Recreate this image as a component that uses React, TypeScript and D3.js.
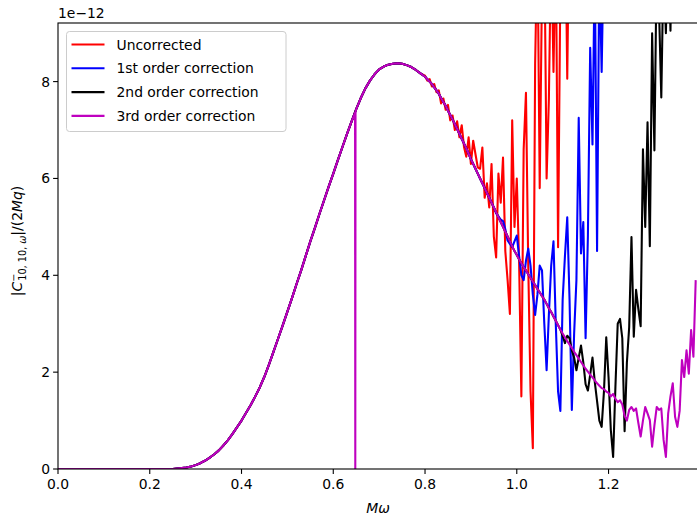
import React from "react";
import * as d3 from "d3";

// shared smooth part, x = 0.00 .. 0.79 step 0.01 (units of 1e-12)
const headStep = 0.01;
const headY = [
  0, 0, 0, 0, 0, 0, 0, 0, 0, 0,
  0, 0, 0, 0, 0, 0, 0, 0, 0, 0,
  0, 0, 0, 0, 0, 0, 0.01, 0.02, 0.03, 0.05,
  0.08, 0.12, 0.17, 0.23, 0.3, 0.38, 0.48, 0.59, 0.72, 0.86,
  1.0, 1.16, 1.32, 1.5, 1.69, 1.91, 2.16, 2.43, 2.7, 2.97,
  3.25, 3.53, 3.82, 4.1, 4.4, 4.7, 4.98, 5.27, 5.55, 5.83,
  6.1, 6.38, 6.65, 6.92, 7.18, 7.43, 7.66, 7.86, 8.02, 8.15,
  8.25, 8.31, 8.35, 8.37, 8.38, 8.37, 8.34, 8.3, 8.24, 8.17,
];

// tails from x = 0.80, step 0.005
const tailStart = 0.8;
const tailStep = 0.005;

const smoothTail = [
  8.1, 8.05, 8.0, 7.95, 7.88, 7.82, 7.75, 7.66, 7.58, 7.5,
  7.4, 7.31, 7.22, 7.12, 7.02, 6.92, 6.82, 6.72, 6.62, 6.51,
  6.4, 6.3, 6.2, 6.1, 6.0, 5.9, 5.8, 5.7, 5.6, 5.5,
  5.4, 5.3, 5.2, 5.1, 5.0, 4.9, 4.8, 4.7, 4.6, 4.5,
  4.42, 4.33, 4.25, 4.17, 4.1, 4.02, 3.95, 3.87, 3.8, 3.72,
  3.65, 3.57, 3.5, 3.41, 3.32, 3.24, 3.15, 3.06, 2.97, 2.88,
  2.8, 2.72, 2.64, 2.57, 2.5, 2.42, 2.35, 2.28, 2.21, 2.14,
  2.07, 2.01, 1.95, 1.89, 1.83, 1.77, 1.72, 1.67,
];

const redTail = [
  8.12, 8.02, 8.05, 7.9, 7.95, 7.78, 7.82, 7.55, 7.65, 7.42,
  7.52, 7.2, 7.3, 7.0, 7.18, 6.85, 7.1, 6.65, 6.45, 6.85,
  6.3, 6.78, 6.5, 6.23, 6.2, 6.64, 5.6, 5.9, 5.4, 6.3,
  4.8, 4.37, 6.1, 5.5, 6.43, 4.5, 3.9, 3.2, 7.2, 5.0,
  6.0, 4.3, 1.5, 6.6, 7.77, 4.2, 1.6, 0.43, 8.37, 11.0,
  5.8, 10.0, 11.0, 6.0, 7.65, 11.0, 8.2, 11.0, 4.58, 10.0,
  11.0, 12.0, 8.06, 12.0,
];

const blueTail = [
  ...smoothTail.slice(0, 31),
  5.28, 5.22, 5.15, 5.12, 4.95, 4.72, 4.65, 4.58, 4.7,
  4.82, 4.4, 4.0, 3.9, 4.3, 4.55, 4.2, 3.6, 3.18, 3.6,
  4.2, 4.1, 3.0, 2.04, 3.2, 4.2, 4.7, 3.0, 1.6, 1.2,
  3.5, 4.4, 5.2, 3.5, 1.22, 2.8, 3.9, 7.25, 4.45, 5.1,
  2.7, 4.8, 8.7, 6.7, 10.5, 4.5, 10.5, 8.2, 11.0,
];

const blackTail = [
  ...smoothTail.slice(0, 60),
  2.75, 2.6, 2.75, 2.7, 2.45, 2.3, 2.04, 2.3, 2.55, 2.2,
  1.75, 1.62, 1.95, 2.3, 1.8, 1.4, 1.0, 0.87, 1.6, 2.72,
  1.9, 0.8, 0.25, 1.7, 3.0, 3.1, 2.7, 0.78, 2.2, 2.93,
  4.79, 2.73, 3.7, 3.3, 2.95, 6.6, 5.0, 7.16, 4.6, 9.0,
  6.58, 10.5, 9.5, 7.67, 10.5, 9.0, 11.0, 9.05, 12.0,
];

const purpleTail = [
  ...smoothTail,
  1.65, 1.6, 1.57, 1.5, 1.55, 1.45, 1.38, 1.42, 1.33, 1.1,
  1.0, 1.22, 1.28, 1.2, 1.25, 0.95, 0.67, 1.0, 1.28, 1.15,
  1.01, 0.46, 0.9, 1.28, 1.22, 1.25, 0.6, 0.25, 1.15, 1.5,
  1.77, 1.08, 0.87, 1.2, 2.25, 1.9, 2.45, 1.97, 2.87, 2.32,
  3.9,
];

// the single drop to zero in the 3rd order curve
const dipX = [0.6475, 0.648, 0.6485];
const dipY = [7.36, 0, 7.38];

const seriesNames = [
  "Uncorrected",
  "1st order correction",
  "2nd order correction",
  "3rd order correction",
];
const seriesColors = ["#ff0000", "#0000ff", "#000000", "#bf00bf"];
const xTicks = [0, 0.2, 0.4, 0.6, 0.8, 1.0, 1.2];
const yTicks = [0, 2, 4, 6, 8];

type Pt = [number, number];

const build = (tail: number[], dip = false): Pt[] => {
  let pts: Pt[] = headY.map((y, i) => [i * headStep, y]);
  if (dip) {
    pts = pts.concat(dipX.map((x, i) => [x, dipY[i]] as Pt));
    pts.sort((a, b) => a[0] - b[0]);
  }
  return pts.concat(tail.map((y, i) => [tailStart + i * tailStep, y] as Pt));
};

const W = 697;
const H = 516;
const margin = { left: 58, top: 23, right: -1, bottom: 47 };
const font = "DejaVu Sans, sans-serif";
const lw = 2.08;

export default function App() {
  const x = d3
    .scaleLinear()
    .domain([0, 1.395])
    .range([margin.left, W - margin.right]);
  const y = d3
    .scaleLinear()
    .domain([0, 9.21])
    .range([H - margin.bottom, margin.top]);

  const line = d3
    .line<Pt>()
    .x((d) => x(d[0]))
    .y((d) => y(d[1]));

  const data = [
    build(redTail),
    build(blueTail),
    build(blackTail),
    build(purpleTail, true),
  ];

  const x0 = x.range()[0];
  const x1 = x.range()[1];
  const y0 = y.range()[0];
  const y1 = y.range()[1];

  return (
    <svg
      width={W}
      height={H}
      style={{ position: "absolute", left: 0, top: 0, background: "#fff" }}
      fontFamily={font}
    >
      <defs>
        <clipPath id="plot">
          <rect x={x0} y={y1} width={x1 - x0} height={y0 - y1} />
        </clipPath>
      </defs>

      <g clipPath="url(#plot)">
        {data.map((d, i) => (
          <path
            key={i}
            d={line(d) || ""}
            fill="none"
            stroke={seriesColors[i]}
            strokeWidth={lw}
            strokeLinejoin="round"
          />
        ))}
      </g>

      {/* spines */}
      <rect
        x={x0}
        y={y1}
        width={x1 - x0}
        height={y0 - y1}
        fill="none"
        stroke="#000"
        strokeWidth={1.1}
      />

      {/* x axis */}
      {xTicks.map((t) => (
        <g key={t} transform={`translate(${x(t)},${y0})`}>
          <line y2={4.9} stroke="#000" strokeWidth={1.1} />
          <text y={20} textAnchor="middle" fontSize={13.9} fill="#000">
            {t.toFixed(1)}
          </text>
        </g>
      ))}
      <text
        x={(x0 + x1) / 2}
        y={513}
        textAnchor="middle"
        fontSize={13.9}
        fontStyle="italic"
      >
        Mω
      </text>

      {/* y axis */}
      {yTicks.map((t) => (
        <g key={t} transform={`translate(${x0},${y(t)})`}>
          <line x2={-4.9} stroke="#000" strokeWidth={1.1} />
          <text x={-8} dy="0.36em" textAnchor="end" fontSize={13.9} fill="#000">
            {t}
          </text>
        </g>
      ))}
      <text x={x0} y={18} fontSize={13.9}>
        1e−12
      </text>
      <text
        transform="translate(22,241) rotate(-90)"
        textAnchor="middle"
        fontSize={13.9}
      >
        |<tspan fontStyle="italic">C</tspan>
        <tspan fontSize={9.7} dy={-5}>−</tspan>
        <tspan fontSize={9.7} dx={-7} dy={9}>10, 10, </tspan>
        <tspan fontSize={9.7} fontStyle="italic">ω</tspan>
        <tspan dy={-4}>|/(2</tspan>
        <tspan fontStyle="italic">Mq</tspan>)
      </text>

      {/* legend */}
      <g transform="translate(66.5,31.5)">
        <rect
          width={219.5}
          height={100}
          rx={3}
          fill="#fff"
          fillOpacity={0.8}
          stroke="#cccccc"
          strokeWidth={1}
        />
        {seriesNames.map((name, i) => (
          <g key={name} transform={`translate(0,${13 + i * 23.8})`}>
            <line x1={5} x2={38} stroke={seriesColors[i]} strokeWidth={lw} />
            <text x={50} dy="0.36em" fontSize={13.9} fill="#000">
              {name}
            </text>
          </g>
        ))}
      </g>
    </svg>
  );
}
